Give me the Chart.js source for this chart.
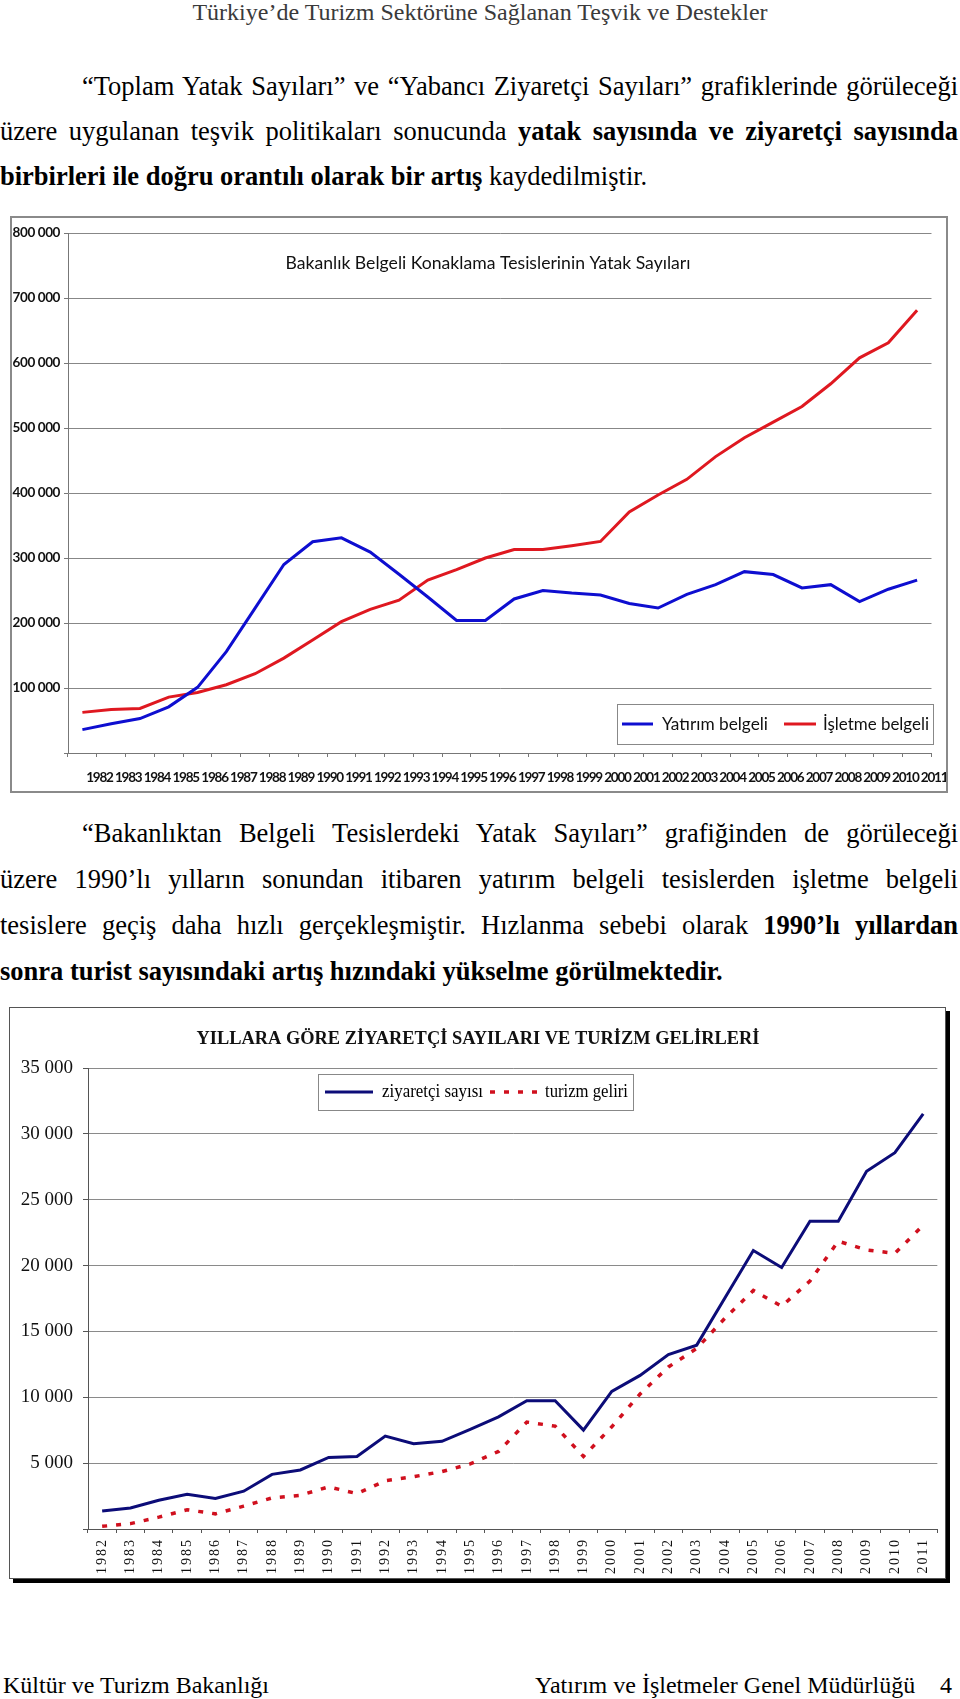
<!DOCTYPE html>
<html lang="tr">
<head>
<meta charset="utf-8">
<title>Türkiye’de Turizm Sektörüne Sağlanan Teşvik ve Destekler</title>
<script src="https://cdn.jsdelivr.net/npm/chart.js@4.4.1/dist/chart.umd.min.js"></script>
<style>
    html, body { margin: 0; padding: 0; background: #fff; }
    body {
        width: 960px; height: 1699px; position: relative; overflow: hidden;
        font-family: "Liberation Serif", "Times New Roman", serif; color: #000;
    }
    .hdr { position: absolute; left: 0; top: 0; width: 960px; text-align: center; font-size: 24px; line-height: 24px; color: #3a3a3a; }
    .para { position: absolute; left: 0; width: 958px; font-size: 26.5px; line-height: 45px; }
    .para .j { text-align: justify; text-align-last: justify; }
    .para .ind { text-indent: 82px; }
    .box { position: absolute; box-sizing: border-box; background: #fff; }
    .box canvas { position: absolute; left: 0; top: 0; }
    #box1 { left: 10px; top: 216px; width: 938px; height: 577px; border: 2px solid #8a8a8a; }
    #box2 { left: 9px; top: 1007px; width: 937px; height: 572px; border: 1px solid #555; box-shadow: 4px 4px 0 #000; }
    .foot { position: absolute; top: 1673px; font-size: 24px; line-height: 24px; white-space: nowrap; }
</style>
</head>
<body>

<div class="hdr">Türkiye’de Turizm Sektörüne Sağlanan Teşvik ve Destekler</div>

<div class="para" style="top: 64px;">
    <div class="j ind">“Toplam Yatak Sayıları” ve “Yabancı Ziyaretçi Sayıları” grafiklerinde görüleceği</div>
    <div class="j">üzere uygulanan teşvik politikaları sonucunda <b>yatak sayısında ve ziyaretçi sayısında</b></div>
    <div><b>birbirleri ile doğru orantılı olarak bir artış</b> kaydedilmiştir.</div>
</div>

<div class="box" id="box1"><canvas id="yatakChart" width="934" height="573"></canvas></div>

<div class="para" style="top: 810px; line-height: 46px;">
    <div class="j ind">“Bakanlıktan Belgeli Tesislerdeki Yatak Sayıları” grafiğinden de görüleceği</div>
    <div class="j">üzere 1990’lı yılların sonundan itibaren yatırım belgeli tesislerden işletme belgeli</div>
    <div class="j">tesislere geçiş daha hızlı gerçekleşmiştir. Hızlanma sebebi olarak <b>1990’lı yıllardan</b></div>
    <div><b>sonra turist sayısındaki artış hızındaki yükselme görülmektedir.</b></div>
</div>

<div class="box" id="box2"><canvas id="ziyaretciChart" width="935" height="570"></canvas></div>

<div class="foot" style="left: 3px;">Kültür ve Turizm Bakanlığı</div>
<div class="foot" style="left: 535px;">Yatırım ve İşletmeler Genel Müdürlüğü</div>
<div class="foot" style="left: 940px;">4</div>

<script>
// --- DATOS ---
const years = ["1982", "1983", "1984", "1985", "1986", "1987", "1988", "1989", "1990", "1991",
    "1992", "1993", "1994", "1995", "1996", "1997", "1998", "1999", "2000", "2001",
    "2002", "2003", "2004", "2005", "2006", "2007", "2008", "2009", "2010", "2011"];

// Bakanlık belgeli tesislerin yatak sayıları
const yatirimBelgeli = [36000, 45000, 53000, 71000, 101000, 156000, 223000, 290000, 325000, 331000,
    309000, 275000, 240000, 204000, 204000, 237000, 250000, 246000, 243000, 230000,
    223000, 244000, 259000, 279000, 274500, 254000, 259000, 233000, 252000, 266000];
const isletmeBelgeli = [62500, 67000, 68500, 86000, 93000, 105000, 122000, 146000, 174000, 202000,
    221000, 235000, 266000, 282000, 300000, 313000, 313000, 319000, 325500, 371000,
    397000, 421000, 456000, 485000, 509000, 533000, 568000, 608000, 631000, 681000];

// Ziyaretçi sayısı ve turizm geliri
const ziyaretciSayisi = [1360, 1590, 2180, 2640, 2310, 2870, 4150, 4480, 5430, 5510,
    7050, 6480, 6660, 7560, 8510, 9740, 9740, 7510, 10450, 11660,
    13250, 13960, 17550, 21140, 19860, 23370, 23370, 27160, 28570, 31510];
const turizmGeliri = [200, 410, 900, 1460, 1150, 1740, 2360, 2560, 3200, 2690,
    3660, 3970, 4360, 4940, 5890, 8120, 7810, 5510, 7760, 10250,
    12300, 13710, 16010, 18110, 16910, 18830, 21850, 21190, 20930, 23060];

// "800 000" gibi boşluklu sayı, sıfırda etiket yok
function spaced(v) {
    return v === 0 ? "" : String(v).replace(/\B(?=(\d{3})+(?!\d))/g, " ");
}

// Başlık ve lejant grafik alanının içine çiziliyor
const insideText = {
    id: "insideText",
    afterDraw(chart, args, opts) {
        const ctx = chart.ctx;
        const t = opts.title;
        if (t) {
            ctx.save();
            ctx.font = t.font;
            ctx.fillStyle = t.color;
            ctx.textAlign = "center";
            ctx.textBaseline = "middle";
            ctx.fillText(t.text, t.x, t.y, t.maxWidth);
            ctx.restore();
        }
        const lg = opts.legend;
        if (lg) {
            ctx.save();
            ctx.fillStyle = "#fff";
            ctx.fillRect(lg.box[0], lg.box[1], lg.box[2], lg.box[3]);
            ctx.strokeStyle = lg.borderColor;
            ctx.lineWidth = 1;
            ctx.strokeRect(lg.box[0] + 0.5, lg.box[1] + 0.5, lg.box[2], lg.box[3]);
            lg.items.forEach((it, i) => {
                const ds = chart.data.datasets[i];
                ctx.beginPath();
                ctx.strokeStyle = ds.borderColor;
                ctx.lineWidth = ds.borderWidth;
                ctx.setLineDash(ds.borderDash || []);
                ctx.moveTo(it.x0, lg.y);
                ctx.lineTo(it.x1, lg.y);
                ctx.stroke();
                ctx.setLineDash([]);
                ctx.font = lg.font;
                ctx.fillStyle = lg.color;
                ctx.textAlign = "left";
                ctx.textBaseline = "middle";
                ctx.fillText(ds.label, it.tx, lg.y, it.tw);
            });
            ctx.restore();
        }
    }
};

// eksen etiketlerinde harf aralığı
const labelSpacing = {
    id: "labelSpacing",
    afterUpdate(chart, args, opts) {
        Object.keys(opts).forEach(id => {
            const s = chart.scales[id];
            if (!s || s._spacingPatch) return;
            const orig = s.drawLabels;
            s.drawLabels = function (area) {
                this.ctx.save();
                this.ctx.letterSpacing = opts[id];
                orig.call(this, area);
                this.ctx.restore();
            };
            s._spacingPatch = true;
        });
    }
};

// --- GRAFİK 1: YATAK SAYILARI ---
new Chart(document.getElementById("yatakChart").getContext("2d"), {
    type: "line",
    data: {
        labels: years,
        datasets: [
            { label: "Yatırım belgeli", data: yatirimBelgeli, borderColor: "#0e0ed0", borderWidth: 3, pointRadius: 0 },
            { label: "İşletme belgeli", data: isletmeBelgeli, borderColor: "#df1820", borderWidth: 3, pointRadius: 0 }
        ]
    },
    plugins: [insideText, labelSpacing],
    options: {
        responsive: false,
        animation: false,
        layout: { padding: { top: 15, right: 14, left: 0, bottom: 0 } },
        plugins: {
            legend: { display: false },
            tooltip: { enabled: false },
            labelSpacing: { x: "-1.2px", y: "-0.4px" },
            insideText: {
                title: { text: "Bakanlık Belgeli Konaklama Tesislerinin Yatak Sayıları", font: "18px Lato", color: "#111", x: 476, y: 45, maxWidth: 405 },
                legend: {
                    box: [605, 486, 316, 40], y: 506, font: "18px Lato", color: "#111", borderColor: "#888",
                    items: [{ x0: 610, x1: 641, tx: 650, tw: 106 }, { x0: 772, x1: 804, tx: 811, tw: 106 }]
                }
            }
        },
        scales: {
            x: {
                offset: true,
                grid: { offset: true, drawOnChartArea: false, tickLength: 4, color: "#777" },
                border: { color: "#777" },
                ticks: { autoSkip: false, maxRotation: 0, minRotation: 0, padding: 13, labelOffset: 17, color: "#111", font: { family: "Lato", size: 13.5, weight: "bold" } },
                afterFit: s => { s.height = 38; }
            },
            y: {
                min: 0, max: 800000,
                ticks: { stepSize: 100000, padding: 4, color: "#111", font: { family: "Lato", size: 13.5, weight: "bold" }, callback: spaced },
                grid: { color: "#878787", tickLength: 4, tickColor: "#777" },
                border: { color: "#777" },
                afterFit: s => { s.width = 56; }
            }
        }
    }
});

// --- GRAFİK 2: ZİYARETÇİ SAYILARI VE TURİZM GELİRLERİ ---
new Chart(document.getElementById("ziyaretciChart").getContext("2d"), {
    type: "line",
    data: {
        labels: years,
        datasets: [
            { label: "ziyaretçi sayısı", data: ziyaretciSayisi, borderColor: "#0c0c78", borderWidth: 3, pointRadius: 0 },
            { label: "turizm geliri", data: turizmGeliri, borderColor: "#d0101e", borderWidth: 3.5, borderDash: [5, 9], pointRadius: 0 }
        ]
    },
    plugins: [insideText, labelSpacing],
    options: {
        responsive: false,
        animation: false,
        layout: { padding: { top: 60, right: 0, left: 0, bottom: 0 } },
        plugins: {
            legend: { display: false },
            tooltip: { enabled: false },
            labelSpacing: { x: "2px" },
            insideText: {
                title: { text: "YILLARA GÖRE ZİYARETÇİ SAYILARI VE TURİZM GELİRLERİ", font: 'bold 19.5px "Liberation Serif"', color: "#111", x: 468, y: 31, maxWidth: 563 },
                legend: {
                    box: [308, 66, 315, 36], y: 84, font: '18px "Liberation Serif"', color: "#000", borderColor: "#888",
                    items: [{ x0: 315, x1: 363, tx: 372, tw: 101 }, { x0: 480, x1: 527, tx: 535, tw: 83 }]
                }
            }
        },
        scales: {
            x: {
                offset: true,
                grid: { offset: true, drawOnChartArea: false, tickLength: 4, color: "#555" },
                border: { color: "#555" },
                ticks: { autoSkip: false, maxRotation: 90, minRotation: 90, padding: 5, color: "#111", font: { family: "Liberation Serif", size: 14 } },
                afterFit: s => { s.height = 49; }
            },
            y: {
                min: 0, max: 35000,
                ticks: { stepSize: 5000, padding: 10, color: "#111", font: { family: "Liberation Serif", size: 19 }, callback: spaced },
                grid: { color: "#8a8a8a", tickLength: 5, tickColor: "#555" },
                border: { color: "#555" },
                afterFit: s => { s.width = 78; }
            }
        }
    }
});
</script>
</body>
</html>
